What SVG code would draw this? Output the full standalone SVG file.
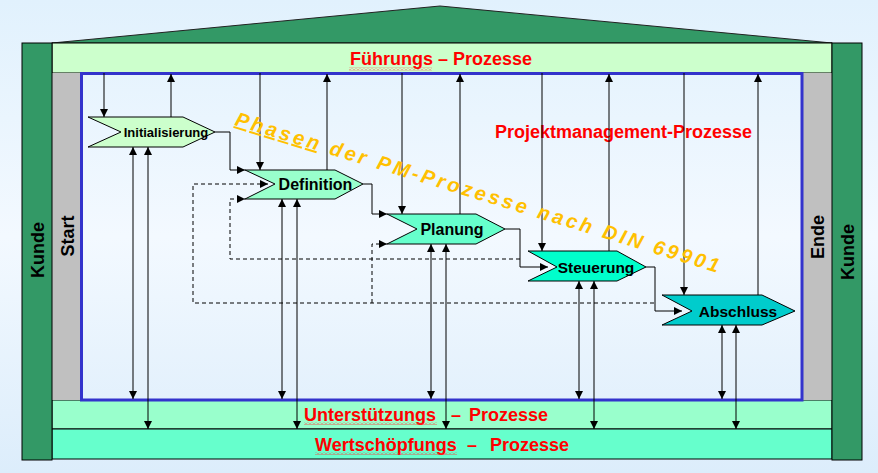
<svg xmlns="http://www.w3.org/2000/svg" width="878" height="473" viewBox="0 0 878 473">
<defs>
<linearGradient id="bg" x1="0" y1="0" x2="0" y2="1">
<stop offset="0" stop-color="#e1f1fd"/>
<stop offset="0.5" stop-color="#f3f9ff"/>
<stop offset="1" stop-color="#dcedfb"/>
</linearGradient>
<marker id="ah" viewBox="0 0 8 8" refX="8" refY="4" markerWidth="8" markerHeight="8" markerUnits="userSpaceOnUse" orient="auto-start-reverse">
<path d="M0,0 L8,4 L0,8 z" fill="#000"/>
</marker>
<pattern id="wave" width="4" height="3" patternUnits="userSpaceOnUse">
<path d="M0,2.5 L2,0.5 L4,2.5" fill="none" stroke="#ff3333" stroke-width="0.8"/>
</pattern>
</defs>
<style>
.lbl{font-family:"Liberation Sans",Arial,sans-serif;font-weight:bold;fill:#ff0000;font-size:18px}
.side{font-family:"Liberation Sans",Arial,sans-serif;font-weight:bold;fill:#000;font-size:18px;text-anchor:middle}
.nt{font-family:"Liberation Sans",Arial,sans-serif;font-weight:bold;fill:#000;text-anchor:middle;font-size:15.5px}
.node{stroke:#000;stroke-width:1}
.c{fill:none;stroke:#000;stroke-width:1}
.a{marker-end:url(#ah)}
.b{marker-start:url(#ah);marker-end:url(#ah)}
.d{stroke-dasharray:4 3}
.frame{stroke:#000;stroke-width:1}
</style>
<rect x="0" y="0" width="878" height="473" fill="url(#bg)"/>

<g id="building">
<polygon points="52,43 440,6 832,43" fill="#339966" stroke="#222" stroke-width="1"/>
<rect id="fuehrung" x="52" y="43" width="780" height="30" fill="#ccffcc" class="frame"/>
<rect id="unterstuetzung" x="52" y="400" width="780" height="29" fill="#99ffcc" class="frame"/>
<rect id="wertschoepfung" x="52" y="429" width="780" height="30" fill="#66ffcc" class="frame"/>
<rect x="52" y="73" width="29" height="327" fill="#c0c0c0"/>
<rect x="802" y="73" width="30" height="327" fill="#c0c0c0"/>
<rect x="22" y="43" width="30" height="417" fill="#339966" class="frame"/>
<rect x="832" y="43" width="30" height="417" fill="#339966" class="frame"/>
<rect x="81.5" y="73.5" width="720.5" height="326.5" fill="none" stroke="#3333cc" stroke-width="3"/>
</g>

<g id="labels">
<text class="lbl" x="441" y="65" text-anchor="middle">Führungs – Prozesse</text>
<rect x="349" y="67.5" width="83" height="3" fill="url(#wave)"/>
<text class="lbl" x="623.5" y="138" text-anchor="middle">Projektmanagement-Prozesse</text>
<text class="lbl" y="421"><tspan x="304">Unterstützungs</tspan><tspan x="451">–</tspan><tspan x="469">Prozesse</tspan></text>
<rect x="304" y="422" width="133" height="3" fill="url(#wave)"/>
<text class="lbl" y="451"><tspan x="315">Wertschöpfungs</tspan><tspan x="467">–</tspan><tspan x="490">Prozesse</tspan></text>
<rect x="315" y="452" width="142" height="3" fill="url(#wave)"/>
<text class="side" transform="translate(37,250) rotate(-90)" x="0" y="6.5">Kunde</text>
<text class="side" transform="translate(67,236) rotate(-90)" x="0" y="6.5">Start</text>
<text class="side" transform="translate(817,237) rotate(-90)" x="0" y="6.5">Ende</text>
<text class="side" transform="translate(847,252) rotate(-90)" x="0" y="6.5">Kunde</text>
</g>

<g id="connectors">
<path class="c a" d="M104,73 V117"/>
<path class="c a" d="M171,117 V74"/>
<path class="c a" d="M215,132 H230 V170 H245"/>
<path class="c b" d="M133,147 V399"/>
<path class="c b" d="M148,147 V429"/>

<path class="c a" d="M260,73 V170"/>
<path class="c a" d="M327,170 V74"/>
<path class="c b" d="M282,199 V399"/>
<path class="c b" d="M297,199 V429"/>
<path class="c a" d="M363,184 H372 V214 H387"/>

<path class="c a" d="M402,73 V214"/>
<path class="c a" d="M460,214 V74"/>
<path class="c b" d="M431,244 V399"/>
<path class="c b" d="M446,244 V429"/>
<path class="c a" d="M505,229 H520 V267 H548"/>

<path class="c a" d="M542,73 V251"/>
<path class="c a" d="M609,251 V74"/>
<path class="c b" d="M579,281 V399"/>
<path class="c b" d="M594,281 V429"/>
<path class="c a" d="M646,267 H655 V311 H682"/>

<path class="c a" d="M684,73 V295"/>
<path class="c a" d="M758,295 V74"/>
<path class="c b" d="M722,325 V399"/>
<path class="c b" d="M736,325 V429"/>

<path class="c d a" d="M654,303 H193 V184 H268"/>
<path class="c d a" d="M372,303 V244 H387"/>
<path class="c d a" d="M520,259 H230 V199 H245"/>
</g>

<g id="initialisierung">
<polygon class="node" points="88,117 183,117 215,132 183,147 88,147 121,132" fill="#ccffcc"/>
<text class="nt" x="166" y="137" style="font-size:13px">Initialisierung</text>
</g>
<g id="definition">
<polygon class="node" points="245,170 335,170 363,184 335,199 245,199 275,184" fill="#99ffcc"/>
<text class="nt" x="315.5" y="190" style="font-size:16px">Definition</text>
</g>
<g id="planung">
<polygon class="node" points="387,214 476,214 505,229 476,244 387,244 417,229" fill="#66ffcc"/>
<text class="nt" x="452" y="235" style="font-size:16px">Planung</text>
</g>
<g id="steuerung">
<polygon class="node" points="528,251 617,251 646,267 617,281 528,281 557,267" fill="#00ffcc"/>
<text class="nt" x="596" y="272.5">Steuerung</text>
</g>
<g id="abschluss">
<polygon class="node" points="662,295 762,295 795,311 762,325 662,325 692,311" fill="#00cccc"/>
<text class="nt" x="738" y="316.5">Abschluss</text>
</g>

<g id="phasen">
<text transform="translate(234,125) rotate(17)" x="0" y="0" textLength="505" lengthAdjust="spacing" style="font-family:'Liberation Sans',Arial,sans-serif;font-weight:bold;font-style:italic;font-size:20px;fill:#ffc000"><tspan text-decoration="underline">Phasen</tspan> der PM-Prozesse nach DIN 69901</text>
</g>
</svg>
